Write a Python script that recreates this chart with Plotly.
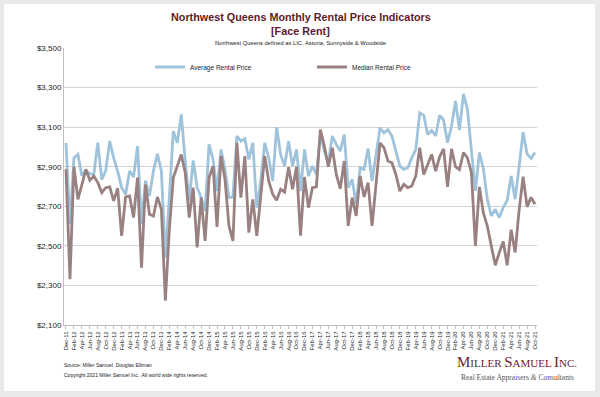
import plotly.graph_objects as go
import pandas as pd

months = pd.date_range("2011-12-01", periods=119, freq="MS").strftime("%b-%y").tolist()
tick_labels = months[::2]

avg_rent = [3020, 2610, 2945, 2962, 2855, 2880, 2865, 2860, 3022, 2835, 2880, 3030,
            2945, 2878, 2794, 2760, 2878, 2848, 3004, 2610, 2830, 2752, 2878, 2965,
            2878, 2440, 2745, 3080, 3021, 3164, 2929, 2727, 2932, 2794, 2744, 2677,
            3013, 2937, 2777, 2987, 2887, 2744, 2747, 3055, 3029, 3041, 2937, 3021,
            2693, 2830, 3021, 2945, 2828, 3100, 2962, 2903, 3029, 2903, 2987, 2777,
            2987, 2853, 2903, 2861, 3063, 2979, 2920, 3055, 3013, 2979, 3063, 2794,
            2836, 2710, 2895, 2887, 2992, 2828, 2960, 3097, 3071, 3088, 3055, 2971,
            2903, 2887, 2895, 2945, 2987, 3172, 3160, 3063, 3083, 3055, 3160, 3135,
            3021, 3105, 3232, 3085, 3268, 3190, 2985, 2778, 2972, 2890, 2736, 2651,
            2685, 2643, 2693, 2730, 2853, 2736, 2900, 3075, 2965, 2942, 2972]

median_rent = [2887, 2332, 2900, 2735, 2810, 2887, 2831, 2853, 2820, 2769, 2794, 2798,
               2727, 2791, 2550, 2747, 2752, 2643, 2845, 2390, 2810, 2660, 2651, 2747,
               2685, 2223, 2580, 2845, 2903, 2962, 2870, 2643, 2794, 2492, 2744, 2525,
               2845, 2903, 2596, 2954, 2836, 2601, 2525, 3021, 2744, 2954, 2567, 2735,
               2551, 2740, 2954, 2828, 2761, 2730, 2786, 2772, 2897, 2786, 2900, 2551,
               2848, 2693, 2794, 2798, 3088, 3004, 2900, 2996, 2861, 2789, 2929, 2601,
               2744, 2651, 2853, 2747, 2820, 2601, 2820, 3021, 2996, 2929, 2920, 2861,
               2777, 2811, 2794, 2803, 2853, 2996, 2861, 2912, 2962, 2878, 2950, 2990,
               2798, 2990, 2900, 2885, 2972, 2945, 2870, 2500, 2798, 2667, 2600, 2500,
               2402, 2465, 2522, 2402, 2582, 2467, 2680, 2850, 2697, 2745, 2710]

y_ticks = [2100, 2300, 2500, 2700, 2900, 3100, 3300, 3500]

FONT = "Liberation Sans"
SERIF = "Liberation Serif"
MAROON = "#5e1a26"

fig = go.Figure()
fig.add_trace(go.Scatter(x=months, y=avg_rent, mode="lines", name="Average Rental Price",
                         line=dict(color="#9fc3da", width=2.8), legend="legend", showlegend=True))
fig.add_trace(go.Scatter(x=months, y=median_rent, mode="lines", name="Median Rental Price",
                         line=dict(color="#9a8181", width=2.8), legend="legend2", showlegend=True))

# pixel -> paper helpers (plot area: x 64..537, y 48..325)
L, R, T, B = 64, 537, 48, 325
def px(x):
    return (x - L) / (R - L)
def py(y):
    return (B - y) / (B - T)

fig.update_layout(
    width=600, height=397, showlegend=True,
    margin=dict(l=L, r=600 - R, t=T, b=397 - B),
    paper_bgcolor="#e9e9e9", plot_bgcolor="white",
    font=dict(family=FONT, color="#222"),
    xaxis=dict(type="category", range=[-0.5, len(months) - 0.5],
               tickmode="array", tickvals=tick_labels, ticktext=tick_labels,
               tickangle=-90, tickfont=dict(size=6, family=FONT, color="#222"),
               showgrid=False, showline=True, linecolor="#bfbfbf", linewidth=1,
               ticks="outside", ticklen=3, tickcolor="#bfbfbf", fixedrange=True,
               automargin=False),
    yaxis=dict(range=[2100, 3500], tickvals=y_ticks,
               ticktext=[f"${v:,}" for v in y_ticks],
               tickfont=dict(size=8, family=FONT, color="#222"),
               showgrid=True, gridcolor="#d3d3d3", gridwidth=1,
               showline=True, linecolor="#bfbfbf", linewidth=1,
               zeroline=False, ticks="", ticklen=0, fixedrange=True,
               automargin=False),
    legend=dict(x=px(150), y=py(67), xanchor="left", yanchor="middle", visible=True,
                bgcolor="rgba(0,0,0,0)", font=dict(size=6.5, family=FONT, color="#222")),
    legend2=dict(x=px(312), y=py(67), xanchor="left", yanchor="middle", visible=True,
                 bgcolor="rgba(0,0,0,0)", font=dict(size=6.5, family=FONT, color="#222")),
    shapes=[dict(type="rect", xref="paper", yref="paper", layer="below",
                 x0=px(4), x1=px(595), y0=py(391), y1=py(4),
                 fillcolor="white", line=dict(width=0))],
)

annotations = [
    dict(text="<b>Northwest Queens Monthly Rental Price Indicators</b>", x=0.5, y=py(17),
         font=dict(size=10.8, family=FONT, color=MAROON)),
    dict(text="<b>[Face Rent]</b>", x=0.5, y=py(31),
         font=dict(size=10.8, family=FONT, color=MAROON)),
    dict(text="Northwest Queens defined as LIC, Astoria, Sunnyside & Woodside", x=0.5, y=py(43),
         font=dict(size=5.8, family=FONT, color="#222")),
    dict(text="Source: Miller Samuel, Douglas Elliman", x=px(62), y=py(365), xanchor="left",
         font=dict(size=5, family=FONT, color="#222")),
    dict(text="Copyright 2021 Miller Samuel Inc.  All world wide rights reserved.", x=px(62), y=py(375),
         xanchor="left", font=dict(size=5, family=FONT, color="#222")),
    dict(text="<span style='font-size:15px'>M</span>ILLER <span style='font-size:15px'>S</span>AMUEL "
              "<span style='font-size:15px'>I</span>NC.",
         x=px(517), y=py(362), font=dict(size=11, family=SERIF, color="#6b1e2c")),
    dict(text="Real Estate Appraisers <i>&</i> Consultants", x=px(517), y=py(377),
         font=dict(size=7.5, family=SERIF, color="#555")),
]
for a in annotations:
    a.setdefault("xanchor", "center")
    a.update(xref="paper", yref="paper", yanchor="middle", showarrow=False)
fig.update_layout(annotations=annotations)

fig.write_html("out.html", config={"displayModeBar": False, "staticPlot": True},
               post_script="document.body.style.margin='0';")
